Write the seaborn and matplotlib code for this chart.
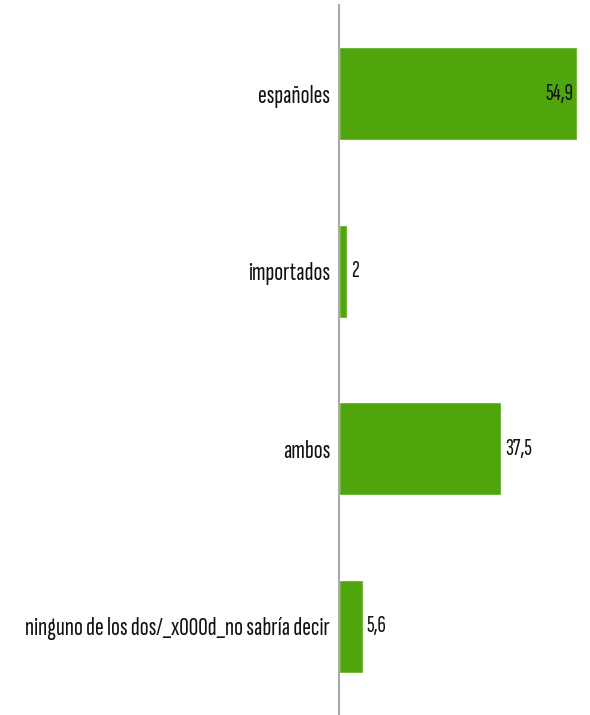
import matplotlib
matplotlib.use('Agg')
import matplotlib.pyplot as plt
import seaborn as sns
import pandas as pd

categorias = ['españoles', 'importados', 'ambos', 'ninguno de los dos/_x000d_no sabría decir']
valores = [54.9, 2, 37.5, 5.6]
etiquetas = ['54,9', '2', '37,5', '5,6']

sns.set_style('white')
plt.rcParams['font.family'] = ['Sofia Sans Extra Condensed', 'DejaVu Sans']
plt.rcParams['font.weight'] = 'light'

df = pd.DataFrame({'categoria': categorias, 'valor': valores})

fig = plt.figure(figsize=(5.9, 7.15), dpi=100)
ax = fig.add_axes([338.5 / 590, 0, 1 - 338.5 / 590, 710 / 715])

sns.barplot(data=df, x='valor', y='categoria', color='#4ea60c', saturation=1,
            width=0.525, ax=ax)

ax.set_xlim(0, 57.9)
ax.set_ylim(3.5, -0.5)
ax.set_xlabel('')
ax.set_ylabel('')
ax.set_xticks([])
ax.tick_params(axis='y', length=0, pad=6, labelsize=19, labelcolor='#111111')

for s in ['top', 'right', 'bottom']:
    ax.spines[s].set_visible(False)
ax.spines['left'].set_color('#aaaaaa')
ax.spines['left'].set_linewidth(1.5)

# etiqueta dentro de la barra si no cabe fuera
xmax = ax.get_xlim()[1]
for i, (v, t) in enumerate(zip(valores, etiquetas)):
    if v > xmax * 0.85:
        ax.text(v - 0.9, i, t, ha='right', va='center', fontsize=17, color='#111111')
    else:
        ax.text(v + 0.9, i, t, ha='left', va='center', fontsize=17, color='#111111')

fig.savefig('out.png', dpi=100)
